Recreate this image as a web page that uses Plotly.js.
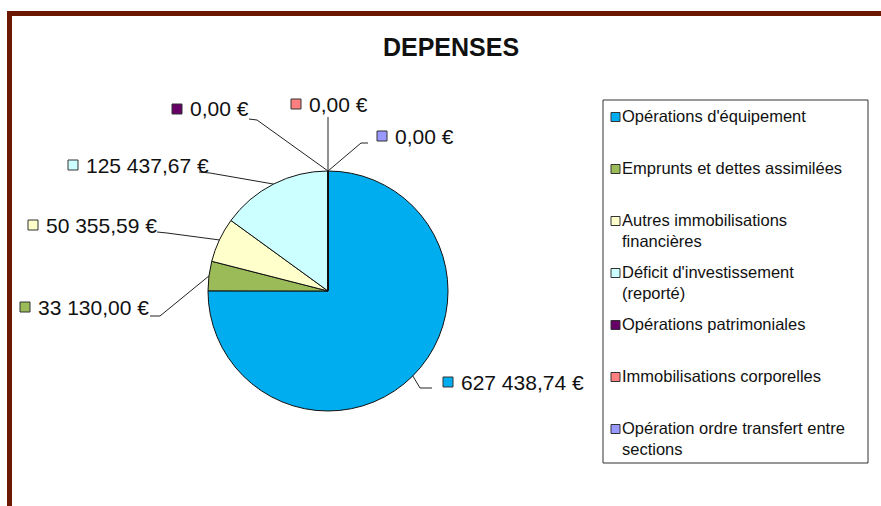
<!DOCTYPE html>
<html>
<head>
<meta charset="utf-8">
<script src="https://cdn.plot.ly/plotly-3.0.1.min.js"></script>
<style>html,body{margin:0;padding:0;background:#fff;}#chart{width:881px;height:506px;}</style>
</head>
<body>
<div id="chart"></div>
<script>
// ---- data ----
var categories = [
  "Opérations d'équipement",
  "Emprunts et dettes assimilées",
  "Autres immobilisations financières",
  "Déficit d'investissement (reporté)",
  "Opérations patrimoniales",
  "Immobilisations corporelles",
  "Opération ordre transfert entre sections"
];
var legendLabels = [
  "Opérations d'équipement",
  "Emprunts et dettes assimilées",
  "Autres immobilisations<br>financières",
  "Déficit d'investissement<br>(reporté)",
  "Opérations patrimoniales",
  "Immobilisations corporelles",
  "Opération ordre transfert entre<br>sections"
];
var values = [627438.74, 33130.00, 50355.59, 125437.67, 0.00, 0.00, 0.00];
var colors = ["#00AEEF", "#9BBB59", "#FFFFCC", "#CCFFFF", "#660066", "#FF8080", "#9999FF"];
var chartTitle = "DEPENSES";

// ---- layout helpers (pixel -> paper) ----
var W = 881, H = 506;
function px(x){ return x / W; }
function py(y){ return 1 - y / H; }

function fmt(v){
  var s = v.toFixed(2).split(".");
  var intPart = s[0].replace(/\B(?=(\d{3})+(?!\d))/g, " ");
  return intPart + "," + s[1] + " \u20AC";
}

// pie geometry (pixels)
var cx = 328, cy = 291, R = 120;

// label placement (marker left x, text center y) and leader elbow points, per slice
var labelPlace = [
  {mx: 443, my: 382, leader: [[432, 388], [420, 388]]},
  {mx: 20,  my: 307, leader: [[150, 316], [160, 316]]},
  {mx: 28,  my: 225, leader: [[157, 232], [167, 233]]},
  {mx: 68,  my: 165, leader: [[199, 172], [210, 173]]},
  {mx: 172, my: 109, leader: [[249, 119], [257, 120]]},
  {mx: 291, my: 104, leader: [[328, 117]]},
  {mx: 377, my: 136, leader: [[368, 143], [361, 143]]}
];

var total = values.reduce(function(a, b){ return a + b; }, 0);
var shapes = [];
var annotations = [];

// frame
shapes.push({type: "rect", xref: "paper", yref: "paper", x0: px(7), x1: px(12), y0: py(506), y1: py(11), fillcolor: "#6A1800", line: {width: 0}, layer: "below"});
shapes.push({type: "rect", xref: "paper", yref: "paper", x0: px(7), x1: px(881), y0: py(16), y1: py(11), fillcolor: "#6A1800", line: {width: 0}, layer: "below"});

// data labels + leader lines
var cum = 0;
for (var i = 0; i < values.length; i++) {
  var mid = (cum + values[i] / 2) / total * 2 * Math.PI;
  cum += values[i];
  var rx = cx + R * Math.sin(mid);
  var ry = cy - R * Math.cos(mid);
  var lp = labelPlace[i];
  var pts = lp.leader.concat([[rx, ry]]);
  var path = "M " + px(pts[0][0]) + " " + py(pts[0][1]);
  for (var k = 1; k < pts.length; k++) path += " L " + px(pts[k][0]) + " " + py(pts[k][1]);
  shapes.push({type: "path", xref: "paper", yref: "paper", path: path, line: {color: "#222", width: 1}});
  // marker square
  shapes.push({type: "rect", xref: "paper", yref: "paper", x0: px(lp.mx), x1: px(lp.mx + 10), y0: py(lp.my + 5), y1: py(lp.my - 5), fillcolor: colors[i], line: {color: "#333", width: 1}});
  annotations.push({xref: "paper", yref: "paper", x: px(lp.mx + 17), y: py(lp.my), xanchor: "left", yanchor: "middle", showarrow: false, text: fmt(values[i]), font: {family: "Liberation Sans, Arial, sans-serif", size: 21, color: "#111"}, borderpad: 0});
}

// legend box
var lx0 = 603, lx1 = 868, ly0 = 100, ly1 = 463;
shapes.push({type: "rect", xref: "paper", yref: "paper", x0: px(lx0), x1: px(lx1), y0: py(ly1), y1: py(ly0), fillcolor: "rgba(0,0,0,0)", line: {color: "#333", width: 1}});
for (var j = 0; j < legendLabels.length; j++) {
  var iy = 117 + j * 52;
  shapes.push({type: "rect", xref: "paper", yref: "paper", x0: px(611), x1: px(620), y0: py(iy + 4.5), y1: py(iy - 4.5), fillcolor: colors[j], line: {color: "#333", width: 1}});
  annotations.push({xref: "paper", yref: "paper", x: px(621), y: py(iy - 11), xanchor: "left", yanchor: "top", align: "left", showarrow: false, text: legendLabels[j], font: {family: "Liberation Sans, Arial, sans-serif", size: 16.5, color: "#111"}, borderpad: 0});
}

var trace = {
  type: "pie",
  labels: categories,
  values: values,
  sort: false,
  direction: "clockwise",
  rotation: 0,
  textinfo: "none",
  hoverinfo: "label+value",
  marker: {colors: colors, line: {color: "#111", width: 1}},
  domain: {x: [px(cx - R), px(cx + R)], y: [py(cy + R), py(cy - R)]},
  showlegend: false
};

var layout = {
  width: W, height: H,
  margin: {l: 0, r: 0, t: 0, b: 0},
  paper_bgcolor: "#fff",
  showlegend: false,
  title: {text: "<b>" + chartTitle + "</b>", x: px(451), y: py(47), xanchor: "center", yanchor: "middle", xref: "paper", yref: "paper", font: {family: "Liberation Sans, Arial, sans-serif", size: 25, color: "#111"}},
  shapes: shapes,
  annotations: annotations
};

Plotly.newPlot("chart", [trace], layout, {displayModeBar: false, staticPlot: true});
</script>
</body>
</html>
